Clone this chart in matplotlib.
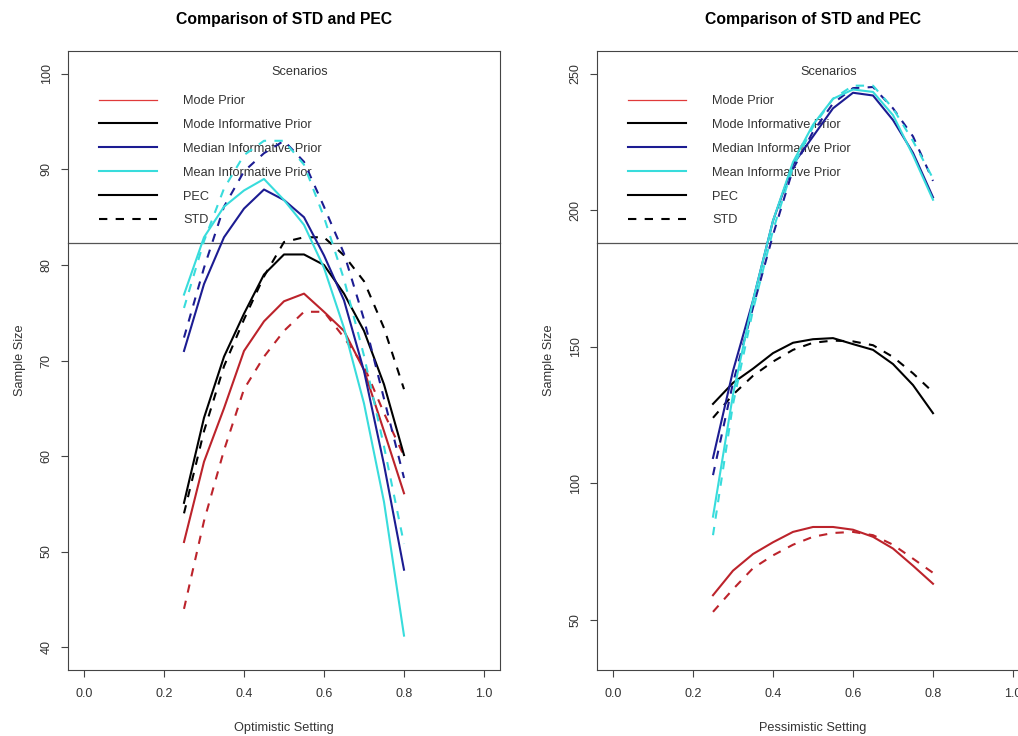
import matplotlib
matplotlib.use("Agg")
from matplotlib import pyplot as plt
from matplotlib.lines import Line2D

plt.rcParams['font.family'] = ['Liberation Sans', 'DejaVu Sans']

# settings on the x axis
x_set = [0.25, 0.30, 0.35, 0.40, 0.45, 0.50, 0.55, 0.60, 0.65, 0.70, 0.75, 0.80]

# optimistic setting (left panel)
opt_mode_pec = [51, 59.4, 65, 71, 74.1, 76.2, 77, 75.1, 73.1, 69, 62.6, 56.1]
opt_mode_std = [44, 53.2, 60.6, 67, 70.4, 73.1, 75.1, 75.1, 72.4, 69.4, 64.5, 60]
opt_modeinf_pec = [55.1, 64, 70.4, 74.9, 79, 81.1, 81.1, 80, 77, 73.1, 67.5, 60.1]
opt_modeinf_std = [54, 62.6, 69.4, 74.3, 78.8, 82.4, 82.9, 82.9, 81, 78.3, 73.4, 67]
opt_median_pec = [71, 78, 82.9, 85.9, 87.9, 86.8, 85, 81, 76.3, 68.9, 59.1, 48.1]
opt_median_std = [72.4, 79.7, 86.1, 89.8, 91.7, 93, 90.8, 86.1, 81.2, 74.3, 66, 57.7]
opt_mean_pec = [76.9, 82.9, 86.1, 87.8, 89, 86.8, 84.2, 79.7, 73.4, 65.5, 55.2, 41.2]
opt_mean_std = [75.5, 82.5, 88, 91.5, 93, 93, 90.5, 85, 78.5, 70.5, 61, 50.8]

# pessimistic setting (right panel)
pes_mode_pec = [59, 68, 74.1, 78.4, 82.2, 84, 84, 83, 80.4, 76.1, 69.8, 63.2]
pes_mode_std = [52.9, 61.2, 68.9, 73.6, 77.5, 80.4, 81.8, 82.2, 81, 77.5, 72.4, 67.2]
pes_modeinf_pec = [129.1, 136.8, 142, 147.7, 151.5, 152.8, 153.2, 151, 148.9, 143.7, 136, 125.7]
pes_modeinf_std = [124, 132.5, 139.4, 144.6, 148.9, 151.5, 152.3, 152, 150.6, 146.3, 140.3, 133.4]
pes_median_pec = [109.3, 141.2, 167, 196.2, 216.8, 227.1, 237.4, 243.1, 242.1, 233.1, 221.1, 204.8]
pes_median_std = [103, 136.8, 164.4, 191, 215.1, 228.8, 239.2, 244.8, 245.2, 237.4, 227.1, 210.8]
pes_mean_pec = [87.8, 132.5, 167, 196.2, 217.7, 231.4, 240.9, 244.3, 243.4, 234.9, 220.2, 203.9]
pes_mean_std = [81, 129, 163.5, 192.7, 216, 230.6, 240.9, 245.7, 245.7, 237.4, 225.4, 211.7]

legend_labels = ["Mode Prior", "Mode Informative Prior", "Median Informative Prior",
                 "Mean Informative Prior", "PEC", "STD"]

RED = "#bc232b"
NAVY = "#1c1c92"
CYAN = "#38dcdc"
LW = 1.5

fig = plt.figure(figsize=(10.18, 7.36), dpi=100)

ax_h = 619.0
ax_w = 432.0


def draw_panel(ax, series, ylim, yticks, xlabel):
    for vals, col, dashed in series:
        if dashed:
            ax.plot(x_set, vals, color=col, lw=LW, dashes=(4, 4), zorder=3)
        else:
            ax.plot(x_set, vals, color=col, lw=LW, zorder=3)

    ax.set_xlim(-0.04, 1.04)
    ax.set_ylim(*ylim)
    ax.set_xticks([0.0, 0.2, 0.4, 0.6, 0.8, 1.0])
    ax.set_xticklabels(["0.0", "0.2", "0.4", "0.6", "0.8", "1.0"])
    ax.set_yticks(yticks)
    ax.tick_params(axis='both', direction='out', length=5, width=0.8,
                   color='#444444', labelsize=9, labelcolor='#333333')
    ax.tick_params(axis='x', pad=8)
    ax.tick_params(axis='y', pad=6, labelrotation=90)
    for lab in ax.get_yticklabels():
        lab.set_va('center')
    for s in ax.spines.values():
        s.set_color('#444444')
        s.set_linewidth(0.8)

    ax.set_title("Comparison of STD and PEC", fontsize=11.3, fontweight='bold',
                 y=1 + 31.5 / ax_h, pad=0, va='center')
    ax.set_xlabel(xlabel, fontsize=9.2, color='#333333')
    ax.xaxis.set_label_coords(0.5, -58 / ax_h)
    ax.xaxis.label.set_va('center')
    ax.set_ylabel("Sample Size", fontsize=9.2, color='#333333')
    ax.yaxis.set_label_coords(-48 / ax_w, 0.5)
    ax.yaxis.label.set_va('center')

    # legend box edge (box spans the full width of the plot)
    ax.plot([0, 1], [0.69, 0.69], transform=ax.transAxes, color='#555555',
            lw=0.9, clip_on=False, zorder=2)
    ax.text(232 / ax_w, 1 - 20.7 / ax_h, "Scenarios", transform=ax.transAxes,
            ha='center', va='center', fontsize=9.2, color='#333333')

    handles = [Line2D([], [], color="#e03a3a", lw=0.9),
               Line2D([], [], color='black', lw=LW),
               Line2D([], [], color=NAVY, lw=LW),
               Line2D([], [], color=CYAN, lw=LW),
               Line2D([], [], color='black', lw=LW),
               Line2D([], [], color='black', lw=LW, dashes=(4, 4))]
    leg = ax.legend(handles, legend_labels, loc='upper left',
                    bbox_to_anchor=(31 / ax_w, 1 - 44 / ax_h), frameon=False,
                    borderpad=0, borderaxespad=0, fontsize=9.2,
                    handlelength=4.55, handletextpad=2.05, labelspacing=0.93,
                    labelcolor='#333333')
    leg.set_zorder(1)


ax1 = fig.add_axes([68 / 1018, 66 / 736, ax_w / 1018, ax_h / 736])
draw_panel(ax1,
           [(opt_mode_pec, RED, False), (opt_mode_std, RED, True),
            (opt_modeinf_pec, 'black', False), (opt_modeinf_std, 'black', True),
            (opt_median_pec, NAVY, False), (opt_median_std, NAVY, True),
            (opt_mean_pec, CYAN, False), (opt_mean_std, CYAN, True)],
           (37.6, 102.4), [40, 50, 60, 70, 80, 90, 100], "Optimistic Setting")

ax2 = fig.add_axes([597 / 1018, 66 / 736, ax_w / 1018, ax_h / 736])
draw_panel(ax2,
           [(pes_mode_pec, RED, False), (pes_mode_std, RED, True),
            (pes_modeinf_pec, 'black', False), (pes_modeinf_std, 'black', True),
            (pes_median_pec, NAVY, False), (pes_median_std, NAVY, True),
            (pes_mean_pec, CYAN, False), (pes_mean_std, CYAN, True)],
           (31.6, 258.4), [50, 100, 150, 200, 250], "Pessimistic Setting")

fig.savefig("out.png", dpi=100)
